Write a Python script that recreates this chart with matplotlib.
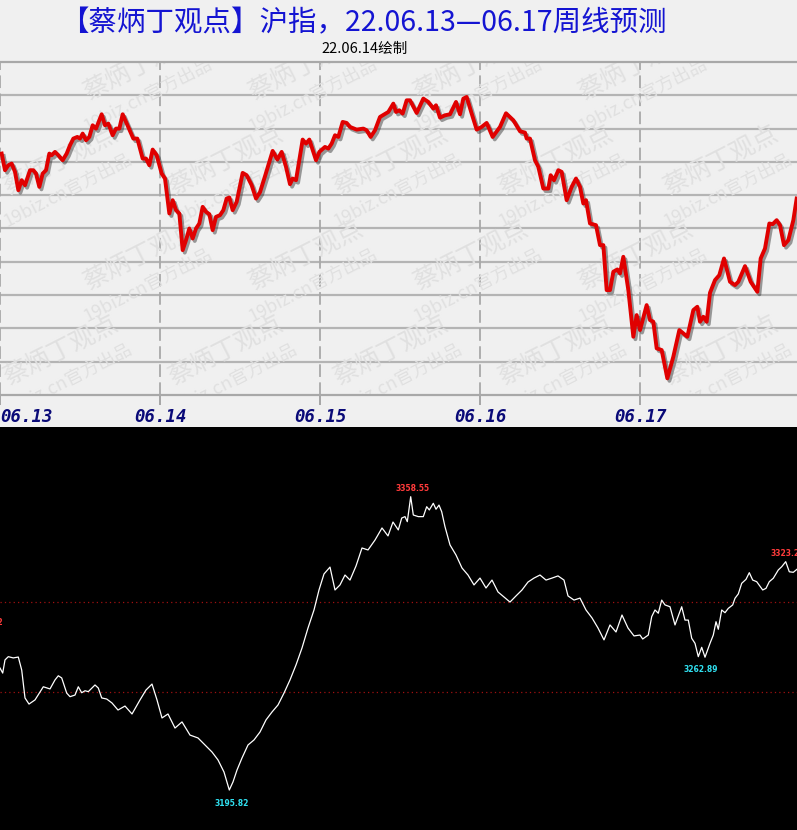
import numpy as np
import matplotlib
matplotlib.use("Agg")
from matplotlib import pyplot as plt
from matplotlib import patheffects as pe

plt.rcParams['font.family'] = ['Noto Sans CJK SC', 'DejaVu Sans']

#top panel: forecast line (minutes from 06.13 open, 240 per day) and level (grid every 10)
top_x = [2.5, 7.5, 12.5, 17.5, 22.5, 27.5, 32.5, 37.5, 45, 50, 54, 59, 64, 69, 74, 77.5, 82.5, 87.5, 94, 100,
         105, 110, 116, 120, 124, 129, 134, 139, 144, 152.5, 157.5, 162.5, 169, 174, 179, 184, 189, 200, 206, 214,
         219, 224, 229, 235, 242.5, 247.5, 254, 259, 264, 269, 274, 279, 284, 289, 294, 299, 304, 309, 314, 319,
         324, 330, 335, 340, 344, 349, 355, 364, 370, 377.5, 384, 390, 397.5, 409, 416, 422.5, 429, 435, 439, 444,
         454, 459, 464, 474, 479, 487.5, 492.5, 497.5, 502.5, 507.5, 514, 520, 525, 535, 545, 550, 556, 562.5, 570, 582.5,
         590, 594, 599, 604, 610, 615, 625, 635, 642.5, 650, 654, 660, 667.5, 675, 684, 690, 695, 700, 707.5, 715,
         722.5, 730, 739, 750, 759, 770, 780, 787.5, 790, 795, 802.5, 807.5, 815, 822.5, 826, 831, 837.5, 842.5, 850, 857.5,
         864, 870, 875, 879, 885, 894, 900, 905, 910, 915, 920, 926, 930, 935, 942.5, 950, 955, 960, 970, 975,
         980, 985, 992.5, 1001, 1010, 1019, 1025, 1031, 1040, 1046, 1050, 1055, 1060, 1065, 1072.5, 1079, 1086, 1095, 1102.5, 1107.5,
         1117.5, 1126, 1136, 1141, 1147.5, 1154, 1159, 1165, 1170, 1176, 1182.5, 1190, 1195]
top_level = [72.5, 67.5, 69.0, 69.5, 67.0, 61.5, 64.5, 63.0, 67.5, 67.5, 66.5, 62.5, 66.5, 67.5, 72.5, 72.0, 73.0, 72.0, 70.5, 72.5,
             75.0, 77.0, 77.5, 77.0, 78.5, 76.5, 77.5, 81.0, 80.0, 84.3, 81.0, 81.5, 78.0, 80.0, 80.0, 84.3, 82.0, 77.0, 77.0, 71.0,
             71.0, 69.0, 73.7, 72.0, 66.5, 65.0, 54.5, 58.5, 55.5, 54.5, 43.5, 46.5, 50.0, 47.0, 50.0, 51.5, 56.5, 55.0, 54.3, 49.5,
             53.5, 54.0, 55.5, 59.0, 59.3, 55.5, 58.0, 66.7, 66.0, 63.0, 59.0, 60.9, 65.7, 73.3, 70.7, 73.0, 68.5, 63.3, 65.0, 64.5,
             76.7, 75.5, 76.7, 70.5, 73.0, 74.5, 74.0, 75.5, 78.0, 77.5, 82.0, 81.7, 80.5, 79.7, 80.0, 79.5, 77.5, 79.5, 83.5, 85.0,
             87.5, 85.0, 85.5, 84.5, 88.5, 88.5, 84.7, 89.0, 88.0, 86.0, 87.0, 83.3, 84.0, 84.3, 88.0, 84.3, 89.0, 89.5, 84.5, 79.7,
             80.5, 81.7, 77.5, 80.5, 84.6, 82.5, 79.2, 78.8, 77.0, 77.0, 70.5, 68.5, 62.0, 62.0, 66.0, 64.5, 67.5, 67.0, 58.5, 62.5,
             65.0, 62.5, 57.5, 58.5, 51.5, 51.0, 45.0, 45.0, 31.5, 31.5, 37.0, 37.7, 36.5, 41.5, 31.5, 17.5, 24.0, 19.5, 27.0, 22.5,
             22.0, 14.0, 13.5, 5.0, 11.5, 19.5, 18.5, 17.5, 25.5, 26.5, 22.0, 23.5, 22.0, 30.7, 34.5, 36.0, 41.0, 34.0, 33.0, 34.0,
             38.7, 34.0, 31.0, 41.0, 44.0, 51.5, 51.3, 52.5, 51.0, 45.0, 46.5, 52.5, 59.0]
day_ticks = [0, 240, 480, 720, 960]
day_labels = ['06.13', '06.14', '06.15', '06.16', '06.17']

#bottom panel: actual index (bar position, price)
bot_x = [0, 2.7, 5, 8.3, 13.3, 18.3, 21.7, 25, 29, 35, 43.3, 50, 55, 58.3, 61.7, 66.7, 70, 75, 78.3, 81.7,
         85, 88.3, 95, 98.3, 101.7, 106.7, 112, 118, 125, 132, 140, 146, 152, 157, 162, 168, 175, 182, 190, 198,
         205, 212, 218, 224, 229.3, 233, 237, 242, 248, 254, 260, 266, 272, 278, 284, 290, 296, 302, 308, 314,
         319, 324, 330, 335, 340, 345, 350, 356, 362, 368, 375, 382, 388, 393, 398.3, 401.7, 405, 407.3, 410.7, 413.3,
         418.3, 423.3, 426.7, 429.3, 433.3, 436, 439, 441.7, 445, 450, 456, 462, 468, 474, 480, 486, 492, 498, 504, 510,
         516, 522, 528, 534, 540, 546, 552, 558, 564, 568, 574, 580, 586, 592, 598, 604, 610, 616, 622, 628,
         634, 640, 642.7, 648.3, 651.7, 655, 658.3, 661.7, 665, 670, 675, 681.7, 685, 688.3, 691.7, 695, 698.3, 701.7, 705, 710,
         713.3, 716, 718.3, 721.7, 725, 728.3, 732.7, 735, 738.3, 741.7, 746, 749.3, 752.7, 756.7, 762.7, 766, 769.3, 773.3, 778.3, 781.7,
         785.7, 789.3, 793.3, 797]
bot_price = [3263.5, 3260.7, 3268.0, 3269.8, 3269.1, 3269.6, 3262.4, 3246.9, 3243.5, 3245.8, 3253.1, 3251.9, 3256.9, 3259.2, 3258.0, 3249.6, 3247.6, 3248.5, 3253.1, 3249.8,
             3250.9, 3250.4, 3254.1, 3252.4, 3246.9, 3246.3, 3244.1, 3240.2, 3242.4, 3238.0, 3245.8, 3251.3, 3254.6, 3245.8, 3235.8, 3238.0, 3230.2, 3233.6, 3226.3, 3224.7,
             3220.8, 3216.9, 3212.5, 3205.8, 3195.82, 3200.3, 3206.9, 3213.6, 3220.8, 3223.6, 3228.0, 3234.7, 3239.1, 3243.0, 3249.6, 3256.9, 3265.2, 3274.6, 3285.7, 3295.7,
             3306.8, 3315.7, 3319.5, 3306.8, 3309.6, 3315.1, 3312.3, 3320.1, 3330.1, 3329.0, 3334.5, 3341.2, 3336.8, 3344.5, 3340.1, 3346.7, 3347.5, 3344.7, 3358.55, 3348.4,
             3347.5, 3347.5, 3353.0, 3351.2, 3354.9, 3351.6, 3353.9, 3350.2, 3341.9, 3331.8, 3326.2, 3319.0, 3315.1, 3309.6, 3313.4, 3307.9, 3312.3, 3305.7, 3302.9, 3300.1,
             3303.5, 3306.8, 3311.2, 3313.4, 3315.1, 3312.3, 3313.4, 3314.6, 3312.3, 3303.5, 3301.2, 3302.3, 3295.7, 3291.3, 3285.7, 3279.1, 3287.4, 3283.5, 3292.9, 3285.7,
             3281.3, 3281.8, 3279.6, 3281.8, 3292.0, 3295.7, 3293.9, 3301.2, 3298.5, 3297.5, 3287.4, 3297.5, 3290.1, 3290.1, 3280.0, 3277.2, 3269.8, 3275.0, 3269.5, 3277.2,
             3281.8, 3289.2, 3285.0, 3295.7, 3294.2, 3296.6, 3298.5, 3302.2, 3304.6, 3310.5, 3312.7, 3316.4, 3312.3, 3311.4, 3306.8, 3307.7, 3311.4, 3313.3, 3317.9, 3319.7,
             3322.5, 3316.9, 3316.6, 3318.3]
ref_lines = [3300, 3250]
hi_labels = [(410.7, 3358.55, '3358.55'), (785.7, 3322.5, '3323.26')]
lo_labels = [(229.3, 3195.82, '3195.82'), (698.3, 3269.8, '3262.89')]

fig = plt.figure(figsize=(7.97, 8.30), dpi=100, facecolor='#f0f0f0')

fig.text(0.456, 0.972, '【蔡炳丁观点】沪指，22.06.13—06.17周线预测', color='#1414d2',
         fontsize=20.5, ha='center', va='center')
fig.text(0.457, 0.941, '22.06.14绘制', color='black', fontsize=10.5, ha='center', va='center')

#top panel
ax = fig.add_axes([0, (830 - 395) / 830, 1, 333 / 830])
ax.set_facecolor('#f0f0f0')
ax.set_xlim(0, 797 * 1.5)
ax.set_ylim(0, 100)
for lv in range(10, 100, 10):
    ax.axhline(lv, color='#b4b4b4', lw=1.6, zorder=1)
for t in day_ticks:
    ax.axvline(t, color='#a8a8a8', lw=1.3, ls=(0, (7, 3)), zorder=1)
for s in ['left', 'right']:
    ax.spines[s].set_visible(False)
for s in ['top', 'bottom']:
    ax.spines[s].set_color('#a8a8a8')
    ax.spines[s].set_linewidth(1.6)
ax.set_yticks([])
ax.set_xticks(day_ticks)
ax.set_xticklabels(day_labels, fontfamily='DejaVu Sans Mono', fontweight='bold',
                   fontstyle='oblique', fontsize=12.5, color='#0a0a78')
ax.get_xticklabels()[0].set_horizontalalignment('left')
ax.tick_params(axis='x', length=7, width=1.3, color='#a0a0a0', pad=2)

#watermark, faint and tiled
for row in range(0, 4):
    for col in range(0, 5):
        px = col * 165 + (row % 2) * 80 + 60
        py = 395 - row * 95 - 45
        if px > 720:
            continue
        xd = px * 1.5
        yd = (395 - py) * 0.3
        ax.text(xd, yd, '蔡炳丁观点', fontsize=18, color='#e0e0e0', rotation=27,
                ha='center', va='center', zorder=2, clip_on=True)
        ax.text(xd + 12, yd - 9, '19biz.cn官方出品', fontsize=13, color='#e0e0e0', rotation=27,
                ha='center', va='center', zorder=2, clip_on=True)

ax.plot(top_x, top_level, color='#e00000', lw=2.8, zorder=5, solid_joinstyle='round',
        path_effects=[pe.SimpleLineShadow(offset=(1.5, -1.8), shadow_color='#2a2a2a', alpha=0.45),
                      pe.Normal()])

#bottom panel
bx = fig.add_axes([0, 0, 1, 403 / 830])
bx.set_facecolor('black')
bx.set_xlim(0, 797)
bx.set_ylim(3358.55 - (830 - 496.7) * 0.5548, 3358.55 + (496.7 - 427) * 0.5548)
for s in bx.spines.values():
    s.set_visible(False)
bx.set_xticks([])
bx.set_yticks([])
for r in ref_lines:
    bx.axhline(r, color='#a01010', lw=0.9, ls=(0, (1, 2.5)))
bx.plot(bot_x, bot_price, color='white', lw=0.9)
for x, y, s in hi_labels:
    bx.text(x + 2, y + 2, s, color='#ff3b3b', fontsize=5.5, fontweight='bold',
            fontfamily='DejaVu Sans', ha='center', va='bottom')
for x, y, s in lo_labels:
    bx.text(x + 2, y - 5 if s == '3195.82' else y - 4.5, s, color='#30e0f0', fontsize=5.5,
            fontweight='bold', fontfamily='DejaVu Sans', ha='center', va='top')
bx.text(3, 3288.9, '3288.92', color='#ff3b3b', fontsize=5.5, fontweight='bold',
        fontfamily='DejaVu Sans', ha='right', va='center', clip_on=False)

fig.savefig('out.png', dpi=100, facecolor=fig.get_facecolor())
